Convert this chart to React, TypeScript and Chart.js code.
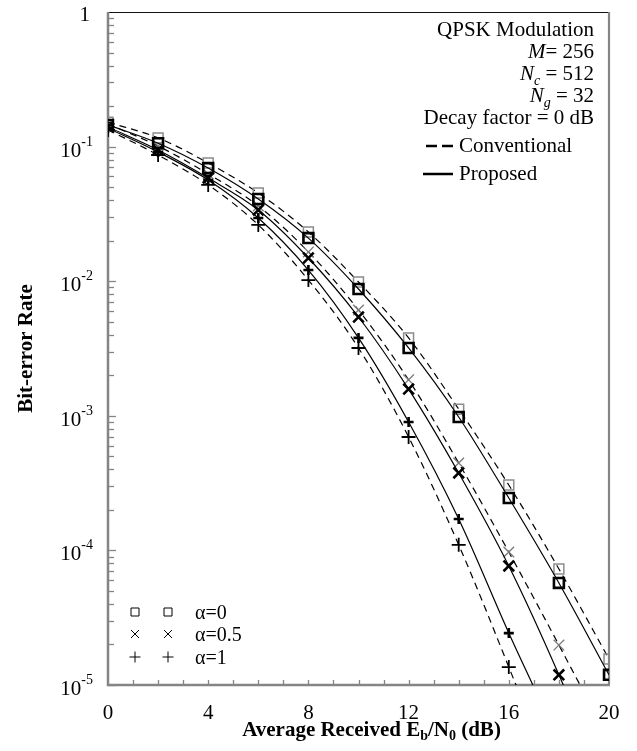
import React, { useEffect, useRef } from 'react';
import { Chart, registerables } from 'chart.js';

Chart.register(...registerables);

// Eb/N0 (dB)
const snr = [0, 2, 4, 6, 8, 10, 12, 14, 16, 18, 20];

// Bit-error rate, conventional (dashed) and proposed (solid)
const convA0 = [0.152, 0.116, 0.0755, 0.0452, 0.0232, 0.00986, 0.00379, 0.00112, 0.000306, 7.28e-5, 1.56e-5];
const propA0 = [0.145, 0.106, 0.0693, 0.0408, 0.0209, 0.00875, 0.00319, 0.00098, 0.000245, 5.73e-5, 1.19e-5];
const convA05 = [0.147, 0.101, 0.0626, 0.0362, 0.0165, 0.00611, 0.00185, 0.000446, 9.73e-5, 1.98e-5, 3.9e-6];
const propA05 = [0.14, 0.0944, 0.0584, 0.0338, 0.01487, 0.00542, 0.00158, 0.000376, 7.66e-5, 1.19e-5, 1.5e-6];
const convA1 = [0.133, 0.0866, 0.0519, 0.0262, 0.0102, 0.00319, 0.000696, 0.00011, 1.36e-5, 1.5e-6, 1.2e-7];
const propA1 = [0.137, 0.0912, 0.0565, 0.0295, 0.0121, 0.00379, 0.000899, 0.000171, 2.43e-5, 3.7e-6, 4e-7];

const xTickLabels = [0, 4, 8, 12, 16, 20];
const yDecades = [0, -1, -2, -3, -4, -5];
const alphaLabels = ['α=0', 'α=0.5', 'α=1'];
const infoLines = ['QPSK Modulation', 'M = 256', 'Nc = 512', 'Ng = 32', 'Decay factor = 0 dB'];
const lineLegend = ['Conventional', 'Proposed'];

const SERIF = '"Liberation Serif", "Times New Roman", serif';
const AXIS_GRAY = '#858585';

const pts = (arr: number[]) => snr.map((x, i) => ({ x, y: arr[i] }));

function drawSegs(ctx: CanvasRenderingContext2D, segs: { t: string; f: string; dy?: number }[], xRight: number, baseY: number) {
  let total = 0;
  for (const s of segs) { ctx.font = s.f; total += ctx.measureText(s.t).width; }
  let x = xRight - total;
  ctx.textAlign = 'left';
  ctx.textBaseline = 'alphabetic';
  for (const s of segs) {
    ctx.font = s.f;
    ctx.fillText(s.t, x, baseY + (s.dy || 0));
    x += ctx.measureText(s.t).width;
  }
}

const decorPlugin = {
  id: 'decor',
  beforeDatasetsDraw(chart: any) {
    const ctx: CanvasRenderingContext2D = chart.ctx;
    const { left, right, top, bottom } = chart.chartArea;
    const xs = chart.scales.x;
    const ys = chart.scales.y;
    ctx.save();
    // ticks
    ctx.strokeStyle = AXIS_GRAY;
    ctx.lineWidth = 1.3;
    for (let k = -5; k < 0; k++) {
      for (let m = 1; m <= 9; m++) {
        const v = m * Math.pow(10, k);
        const py = Math.round(ys.getPixelForValue(v)) + 0.5;
        const len = m === 1 ? 8 : 6;
        ctx.beginPath();
        ctx.moveTo(left, py);
        ctx.lineTo(left + len, py);
        ctx.stroke();
      }
    }
    for (let v = 1; v < 20; v++) {
      const px = Math.round(xs.getPixelForValue(v)) + 0.5;
      ctx.beginPath();
      ctx.moveTo(px, bottom);
      ctx.lineTo(px, bottom - 5);
      ctx.stroke();
    }
    // frame
    ctx.strokeStyle = '#111';
    ctx.lineWidth = 1;
    ctx.beginPath();
    ctx.moveTo(left, top + 0.5);
    ctx.lineTo(right, top + 0.5);
    ctx.stroke();
    ctx.strokeStyle = AXIS_GRAY;
    ctx.lineWidth = 2.2;
    ctx.beginPath();
    ctx.moveTo(right, top);
    ctx.lineTo(right, bottom);
    ctx.stroke();
    ctx.lineWidth = 2.5;
    ctx.beginPath();
    ctx.moveTo(left, top);
    ctx.lineTo(left, bottom);
    ctx.lineTo(right + 1, bottom);
    ctx.stroke();
    ctx.restore();
  },
  afterDraw(chart: any) {
    const ctx: CanvasRenderingContext2D = chart.ctx;
    const { left, right, bottom } = chart.chartArea;
    const xs = chart.scales.x;
    const ys = chart.scales.y;
    ctx.save();
    ctx.fillStyle = '#000';

    // y tick labels
    for (const k of yDecades) {
      const py = ys.getPixelForValue(Math.pow(10, k));
      if (k === 0) {
        ctx.font = `21px ${SERIF}`;
        ctx.textAlign = 'right';
        ctx.textBaseline = 'middle';
        ctx.fillText('1', left - 18, py + 3);
      } else {
        ctx.font = `14px ${SERIF}`;
        const supW = ctx.measureText(String(k)).width;
        ctx.textAlign = 'right';
        ctx.textBaseline = 'alphabetic';
        ctx.fillText(String(k), left - 15, py - 1);
        ctx.font = `21px ${SERIF}`;
        ctx.fillText('10', left - 15 - supW, py + 10);
      }
    }
    // x tick labels
    ctx.font = `21px ${SERIF}`;
    ctx.textAlign = 'center';
    ctx.textBaseline = 'alphabetic';
    for (const v of xTickLabels) {
      ctx.fillText(String(v), xs.getPixelForValue(v), bottom + 34);
    }

    // x axis title
    const bold = `bold 21px ${SERIF}`;
    const boldSub = `bold 14px ${SERIF}`;
    const titleSegs = [
      { t: 'Average Received E', f: bold },
      { t: 'b', f: boldSub, dy: 4 },
      { t: '/N', f: bold },
      { t: '0', f: boldSub, dy: 4 },
      { t: ' (dB)', f: bold },
    ];
    let tw = 0;
    for (const s of titleSegs) { ctx.font = s.f; tw += ctx.measureText(s.t).width; }
    drawSegs(ctx, titleSegs, (left + right) / 2 + 13 + tw / 2, bottom + 51);

    // y axis title
    ctx.save();
    ctx.translate(32, (chart.chartArea.top + bottom) / 2);
    ctx.rotate(-Math.PI / 2);
    ctx.font = bold;
    ctx.textAlign = 'center';
    ctx.textBaseline = 'alphabetic';
    ctx.fillText('Bit-error Rate', 0, 0);
    ctx.restore();

    // info block (top right)
    const reg = `21px ${SERIF}`;
    const ital = `italic 21px ${SERIF}`;
    const subI = `italic 14px ${SERIF}`;
    const xr = right - 15;
    drawSegs(ctx, [{ t: infoLines[0], f: reg }], xr, 36);
    drawSegs(ctx, [{ t: 'M', f: ital }, { t: '= 256', f: reg }], xr, 58);
    drawSegs(ctx, [{ t: 'N', f: ital }, { t: 'c', f: subI, dy: 5 }, { t: ' = 512', f: reg }], xr, 80);
    drawSegs(ctx, [{ t: 'N', f: ital }, { t: 'g', f: subI, dy: 5 }, { t: ' = 32', f: reg }], xr, 102);
    drawSegs(ctx, [{ t: infoLines[4], f: reg }], xr, 124);

    // line-style legend
    ctx.strokeStyle = '#000';
    ctx.lineWidth = 2.5;
    ctx.beginPath();
    ctx.moveTo(426, 146); ctx.lineTo(437, 146);
    ctx.moveTo(442, 146); ctx.lineTo(453, 146);
    ctx.moveTo(423, 174); ctx.lineTo(453, 174);
    ctx.stroke();
    ctx.font = reg;
    ctx.textAlign = 'left';
    ctx.textBaseline = 'alphabetic';
    ctx.fillText(lineLegend[0], 459, 152);
    ctx.fillText(lineLegend[1], 459, 180);

    // marker legend (bottom left)
    const rows = [612, 634, 657];
    ctx.lineWidth = 1;
    ctx.strokeStyle = '#000';
    rows.forEach((ry, i) => {
      [135, 168].forEach((cx) => {
        ctx.beginPath();
        if (i === 0) {
          ctx.rect(cx - 4, ry - 4, 8, 8);
        } else if (i === 1) {
          ctx.moveTo(cx - 4, ry - 4); ctx.lineTo(cx + 4, ry + 4);
          ctx.moveTo(cx + 4, ry - 4); ctx.lineTo(cx - 4, ry + 4);
        } else {
          ctx.moveTo(cx - 5.5, ry); ctx.lineTo(cx + 5.5, ry);
          ctx.moveTo(cx, ry - 5.5); ctx.lineTo(cx, ry + 5.5);
        }
        ctx.stroke();
      });
      ctx.font = `20px ${SERIF}`;
      ctx.fillText(alphaLabels[i], 195, ry + 7);
    });
    ctx.restore();
  },
};

export default function App() {
  const ref = useRef<HTMLCanvasElement | null>(null);
  useEffect(() => {
    document.body.style.margin = '0';
    const canvas = ref.current!;
    const common = {
      borderColor: '#000',
      borderWidth: 1.2,
      fill: false,
      cubicInterpolationMode: 'monotone' as const,
      pointBackgroundColor: 'rgba(0,0,0,0)',
    };
    const chart = new Chart(canvas, {
      type: 'line',
      data: {
        datasets: [
          { ...common, label: 'Proposed α=0', data: pts(propA0), pointStyle: 'rect', pointRadius: 7, pointBorderWidth: 2.6, pointBorderColor: '#000' },
          { ...common, label: 'Proposed α=0.5', data: pts(propA05), pointStyle: 'crossRot', pointRadius: 7.5, pointBorderWidth: 2.6, pointBorderColor: '#000' },
          { ...common, label: 'Proposed α=1', data: pts(propA1), pointStyle: 'cross', pointRadius: 5, pointBorderWidth: 2.6, pointBorderColor: '#000' },
          { ...common, label: 'Conventional α=0', data: pts(convA0), borderDash: [7, 5], pointStyle: 'rect', pointRadius: 7, pointBorderWidth: 1.5, pointBorderColor: '#8c8c8c' },
          { ...common, label: 'Conventional α=0.5', data: pts(convA05), borderDash: [7, 5], pointStyle: 'crossRot', pointRadius: 7.5, pointBorderWidth: 1.3, pointBorderColor: '#7a7a7a' },
          { ...common, label: 'Conventional α=1', data: pts(convA1), borderDash: [7, 5], pointStyle: 'cross', pointRadius: 7, pointBorderWidth: 1.8, pointBorderColor: '#000' },
        ],
      },
      options: {
        responsive: false,
        animation: false,
        layout: { padding: { left: 108, right: 28, top: 12, bottom: 66 } },
        plugins: { legend: { display: false }, tooltip: { enabled: false } },
        scales: {
          x: { type: 'linear', min: 0, max: 20, display: false },
          y: { type: 'logarithmic', min: 1e-5, max: 1, display: false },
        },
      },
      plugins: [decorPlugin],
    });
    return () => chart.destroy();
  }, []);
  return (
    <div style={{ width: 637, height: 751, background: '#fff' }}>
      <canvas ref={ref} width={637} height={751} />
    </div>
  );
}
